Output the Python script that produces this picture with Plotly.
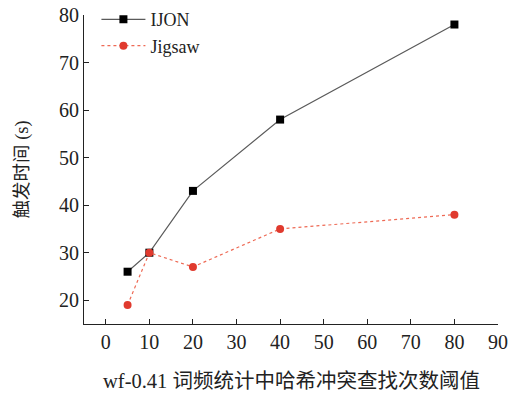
import plotly.graph_objects as go

thresholds = [5, 10, 20, 40, 80]
ijon = [26, 30, 43, 58, 78]
jigsaw = [19, 30, 27, 35, 38]
x_ticks = [0, 10, 20, 30, 40, 50, 60, 70, 80, 90]
y_ticks = [20, 30, 40, 50, 60, 70, 80]
x_title = "wf-0.41 词频统计中哈希冲突查找次数阈值"
y_title = "触发时间 (s)"

font_family = "Liberation Serif, Times New Roman, Noto Sans CJK SC, serif"

fig = go.Figure()
fig.add_trace(go.Scatter(
    x=thresholds, y=ijon, name="IJON", mode="lines+markers",
    line=dict(color="#5a5a5a", width=1.2),
    marker=dict(symbol="square", size=8, color="black"),
))
fig.add_trace(go.Scatter(
    x=thresholds, y=jigsaw, name="Jigsaw", mode="lines+markers",
    line=dict(color="#ee6a55", width=1.2, dash="dot"),
    marker=dict(symbol="circle", size=8, color="#e03a2e"),
))

fig.update_layout(
    width=509, height=394,
    margin=dict(l=84, r=11, t=15, b=70, autoexpand=False),
    paper_bgcolor="white", plot_bgcolor="white",
    font=dict(family=font_family, size=20, color="#222"),
    showlegend=True,
    legend=dict(x=0.03, y=1.045, xanchor="left", yanchor="top",
                bgcolor="rgba(0,0,0,0)", font=dict(size=18),
                tracegroupgap=0, itemwidth=44),
    xaxis=dict(
        range=[-5, 90], tickvals=x_ticks, ticktext=[str(v) for v in x_ticks],
        showgrid=False, zeroline=False, showline=True, linecolor="#222",
        linewidth=1.2, ticks="inside", ticklen=5, tickcolor="#222",
        automargin=False,
    ),
    yaxis=dict(
        range=[15, 80], tickvals=y_ticks, ticktext=[str(v) for v in y_ticks],
        showgrid=False, zeroline=False, showline=True, linecolor="#222",
        linewidth=1.2, ticks="inside", ticklen=5, tickcolor="#222",
        automargin=False,
    ),
    annotations=[
        dict(text=x_title, xref="paper", yref="paper", x=0.5, y=0,
             xanchor="center", yanchor="middle", yshift=-57, showarrow=False,
             font=dict(size=20.5)),
        dict(text=y_title, xref="paper", yref="paper", x=0, y=0.5,
             xanchor="center", yanchor="middle", xshift=-62, textangle=-90,
             showarrow=False, font=dict(size=18.5)),
    ],
)

fig.write_html("out.html", post_script="document.body.style.margin='0';",
               config={"displayModeBar": False})
